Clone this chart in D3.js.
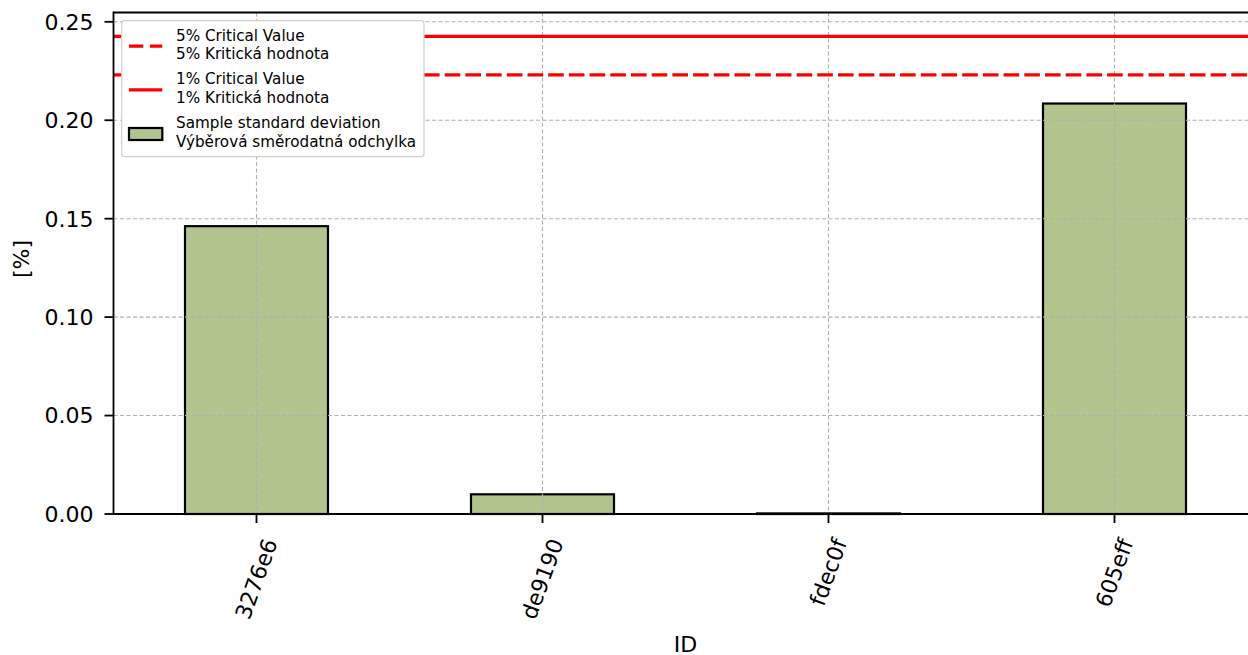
<!DOCTYPE html>
<html><head><meta charset="utf-8">
<script src="https://cdn.jsdelivr.net/npm/d3@7"></script>
<style>
body{margin:0;background:#fff;}
text{font-family:"DejaVu Sans",sans-serif;fill:#000;}
</style></head>
<body><svg id="c" width="1248" height="655"></svg>
<script>
const categories = ["3276e6","de9190","fdec0f","605eff"];
const stdValues = [0.1462, 0.0100, 0.0003, 0.2085];
const crit5 = 0.2230;
const crit1 = 0.2426;
const yTicks = [0.00,0.05,0.10,0.15,0.20,0.25];
const legendLabels = [
  ["5% Critical Value","5% Kritická hodnota"],
  ["1% Critical Value","1% Kritická hodnota"],
  ["Sample standard deviation","Výběrová směrodatná odchylka"]
];

const svg = d3.select("#c");
const L = 113.5, R = 1257.5, T = 12.5, B = 514;
const x = d3.scaleLinear().domain([-0.5, categories.length-0.5]).range([L,R]);
const y = d3.scaleLinear().domain([0, crit1*1.05]).range([B,T]);
const bw = x(0.5)-x(0);
const gridColor="#b0b0b0";
const FS = 22;

// bars
svg.append("g").selectAll("rect").data(stdValues).join("rect")
  .attr("x",(d,i)=>x(i)-bw/2).attr("width",bw)
  .attr("y",d=>y(d)).attr("height",d=>B-y(d))
  .attr("fill","#b3c58e").attr("stroke","#000").attr("stroke-width",2.2);

// grid
const g = svg.append("g");
g.selectAll(".gy").data(yTicks).join("line")
  .attr("x1",L).attr("x2",R).attr("y1",d=>y(d)).attr("y2",d=>y(d))
  .attr("stroke",gridColor).attr("stroke-width",1.1).attr("stroke-dasharray","4,2.5");
g.selectAll(".gx").data(categories).join("line")
  .attr("x1",(d,i)=>x(i)).attr("x2",(d,i)=>x(i)).attr("y1",T).attr("y2",B)
  .attr("stroke",gridColor).attr("stroke-width",1.1).attr("stroke-dasharray","4,2.5");

// critical lines
svg.append("line").attr("x1",L).attr("x2",R).attr("y1",y(crit5)).attr("y2",y(crit5))
  .attr("stroke","#ff0000").attr("stroke-width",3.3).attr("stroke-dasharray","15.6,5.1");
svg.append("line").attr("x1",L).attr("x2",R).attr("y1",y(crit1)).attr("y2",y(crit1))
  .attr("stroke","#ff0000").attr("stroke-width",3.3);

// spines
const sw = 1.8;
svg.append("line").attr("x1",L).attr("x2",L).attr("y1",T-sw/2).attr("y2",B+sw/2).attr("stroke","#000").attr("stroke-width",sw);
svg.append("line").attr("x1",L).attr("x2",R).attr("y1",T).attr("y2",T).attr("stroke","#000").attr("stroke-width",sw);
svg.append("line").attr("x1",L).attr("x2",R).attr("y1",B).attr("y2",B).attr("stroke","#000").attr("stroke-width",sw);

// y axis ticks
const ya = svg.append("g");
yTicks.forEach(t=>{
  ya.append("line").attr("x1",L-9).attr("x2",L).attr("y1",y(t)).attr("y2",y(t)).attr("stroke","#000").attr("stroke-width",sw);
  ya.append("text").attr("x",L-20).attr("y",y(t)).attr("dy","0.36em").attr("text-anchor","end")
    .style("font-size",FS+"px").text(d3.format(".2f")(t));
});
svg.append("text").attr("transform",`translate(21,259) rotate(-90)`).attr("text-anchor","middle")
  .attr("dy","0.36em").style("font-size",FS+"px").text("[%]");

// x axis ticks & rotated labels
const xa = svg.append("g");
const ang = 70*Math.PI/180;
categories.forEach((c,i)=>{
  const cx = x(i);
  xa.append("line").attr("x1",cx).attr("x2",cx).attr("y1",B).attr("y2",B+9).attr("stroke","#000").attr("stroke-width",sw);
  const t = xa.append("text").attr("text-anchor","middle").attr("dominant-baseline","central")
    .style("font-size",FS+"px").text(c);
  const w = t.node().getComputedTextLength();
  const h = FS*1.0;
  const bh = w*Math.sin(ang)+h*Math.cos(ang);
  const cy = 536+bh/2;
  t.attr("transform",`translate(${cx},${cy}) rotate(-70)`);
});
svg.append("text").attr("x",(L+R)/2).attr("y",651.5).attr("text-anchor","middle")
  .style("font-size",FS+"px").text("ID");

// legend
const lg = svg.append("g");
lg.append("rect").attr("x",121.7).attr("y",20.7).attr("width",302.3).attr("height",136)
  .attr("rx",3).attr("fill","#fff").attr("fill-opacity",1).attr("stroke","#d0d0d0").attr("stroke-width",1.2);
const entryTop = [40.8, 84.4, 128.3];
legendLabels.forEach((lab,i)=>{
  const b = entryTop[i];
  lab.forEach((s,j)=>{
    lg.append("text").attr("x",176).attr("y",b+j*18.4).style("font-size","15.2px").text(s);
  });
  const cy = b+5.4;
  if(i===0){
    lg.append("line").attr("x1",129).attr("x2",162.3).attr("y1",cy).attr("y2",cy)
      .attr("stroke","#ff0000").attr("stroke-width",3.3).attr("stroke-dasharray","14.3,6.7");
  } else if(i===1){
    lg.append("line").attr("x1",129).attr("x2",162.3).attr("y1",cy).attr("y2",cy)
      .attr("stroke","#ff0000").attr("stroke-width",3.3);
  } else {
    lg.append("rect").attr("x",129).attr("y",128).attr("width",33.3).attr("height",12)
      .attr("fill","#b3c58e").attr("stroke","#000").attr("stroke-width",2.2);
  }
});
</script></body></html>
